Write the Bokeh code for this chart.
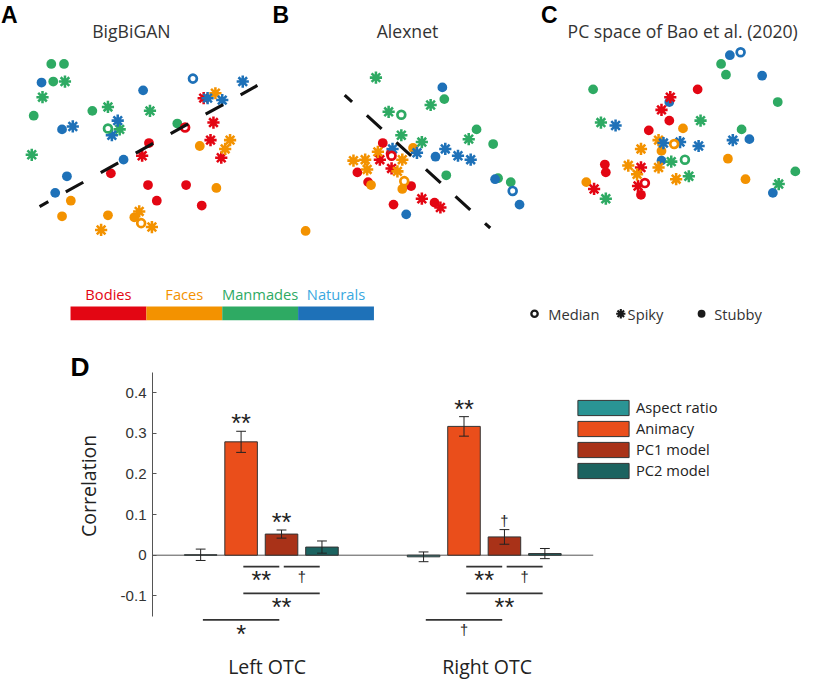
import math
from bokeh.plotting import figure
from bokeh.models import Range1d, ColumnDataSource, FixedTicker, Legend, LegendItem
from bokeh.layouts import column, row
from bokeh.embed import file_html
from bokeh.resources import INLINE
from bokeh.core.properties import value

# ------------------------------------------------------------------ data
CATEGORIES = ["Bodies", "Faces", "Manmades", "Naturals"]
SHAPES = ["Median", "Spiky", "Stubby"]
PANEL_TITLES = ["BigBiGAN", "Alexnet", "PC space of Bao et al. (2020)"]
PANEL_LETTERS = ["A", "B", "C"]

# Panel A: BigBiGAN space
A_cat = ["Bodies"] * 12 + ["Faces"] * 13 + ["Manmades"] * 13 + ["Naturals"] * 13
A_shape = (["Stubby"] * 6 + ["Spiky"] * 5 + ["Median"] +
           ["Stubby"] * 6 + ["Spiky"] * 6 + ["Median"] +
           ["Stubby"] * 6 + ["Spiky"] * 6 + ["Median"] +
           ["Stubby"] * 6 + ["Spiky"] * 6 + ["Median"])
A_x = [15.2, 11.3, 15.1, 16.0, 19.0, 20.6, 20.8, 21.8, 21.5, 14.5, 22.6, 18.9,
       20.4, 22.1, 7.2, 6.3, 11.0, 13.7, 22.0, 23.5, 23.0, 14.2, 15.5, 10.3, 14.4,
       5.2, 6.5, 5.4, 9.4, 3.4, 18.1, 6.6, 4.3, 11.0, 15.3, 12.2, 3.2, 11.0,
       4.2, 14.6, 6.3, 12.6, 6.8, 5.6, 7.4, 12.0, 11.4, 24.8, 21.2, 22.7, 19.7]
A_y = [10.9, 7.8, 6.6, 5.0, 6.6, 4.5, 15.5, 13.0, 11.2, 9.6, 9.4, 12.5,
       10.6, 6.3, 5.0, 3.4, 3.5, 3.3, 16.0, 11.2, 10.3, 3.9, 2.3, 2.0, 2.7,
       19.0, 19.0, 17.2, 14.2, 13.7, 12.9, 17.2, 15.6, 14.6, 14.2, 12.3, 9.7, 12.4,
       17.1, 16.3, 12.3, 9.2, 7.5, 5.8, 12.6, 13.2, 11.7, 17.2, 15.5, 15.3, 17.5]
A_boundary_x = [4.0, 26.3]
A_boundary_y = [4.4, 16.8]

# Panel B: Alexnet space
B_cat = ["Bodies"] * 12 + ["Faces"] * 11 + ["Manmades"] * 13 + ["Naturals"] * 11
B_shape = (["Stubby"] * 7 + ["Spiky"] * 4 + ["Median"] +
           ["Stubby"] * 4 + ["Spiky"] * 6 + ["Median"] +
           ["Stubby"] * 6 + ["Spiky"] * 6 + ["Median"] +
           ["Stubby"] * 5 + ["Spiky"] * 5 + ["Median"])
B_x = [11.8, 12.6, 9.2, 10.3, 14.7, 12.9, 17.1, 11.5, 12.7, 15.8, 17.7, 12.7,
       14.9, 10.6, 13.8, 3.9, 8.8, 10.0, 11.3, 13.8, 10.2, 13.3, 14.0,
       18.1, 21.4, 23.1, 18.3, 23.6, 24.9, 11.1, 16.7, 12.4, 20.6, 13.7, 15.8, 13.7,
       17.9, 23.3, 25.8, 14.2, 17.2, 18.2, 19.5, 20.8, 15.3, 12.8, 25.1]
B_y = [10.9, 9.8, 7.9, 6.9, 6.5, 4.6, 4.8, 9.2, 8.3, 5.2, 4.3, 9.6,
       10.4, 6.6, 6.2, 1.9, 9.1, 9.2, 10.0, 9.2, 8.2, 8.0, 7.0,
       15.4, 12.3, 10.8, 7.6, 7.3, 6.9, 17.6, 14.8, 14.1, 11.3, 11.7, 11.0, 13.8,
       16.6, 7.2, 4.6, 3.6, 9.5, 10.3, 9.6, 9.2, 9.9, 10.3, 6.0]
B_boundary_x = [7.9, 22.8]
B_boundary_y = [15.8, 2.2]

# Panel C: PC space of Bao et al. (2020)
C_cat = ["Bodies"] * 12 + ["Faces"] * 12 + ["Manmades"] * 13 + ["Naturals"] * 12
C_shape = (["Stubby"] * 6 + ["Spiky"] * 5 + ["Median"] +
           ["Stubby"] * 5 + ["Spiky"] * 6 + ["Median"] +
           ["Stubby"] * 6 + ["Spiky"] * 6 + ["Median"] +
           ["Stubby"] * 6 + ["Spiky"] * 5 + ["Median"])
C_x = [16.7, 13.8, 11.7, 7.2, 7.3, 10.9, 13.9, 13.0, 10.9, 6.1, 10.6, 11.3,
       15.2, 13.0, 19.8, 21.6, 5.3, 12.7, 10.9, 9.6, 12.7, 10.5, 14.5, 14.3,
       19.1, 19.6, 6.0, 24.9, 21.2, 26.7, 6.8, 17.0, 14.0, 15.8, 7.3, 25.0, 15.4,
       20.0, 23.3, 22.0, 13.8, 13.0, 24.4, 8.3, 13.2, 14.9, 16.8, 20.3, 21.1]
C_y = [16.4, 13.2, 12.2, 8.7, 7.9, 5.6, 15.6, 14.3, 8.4, 6.2, 6.5, 6.8,
       12.4, 10.1, 9.3, 7.2, 6.9, 11.2, 10.3, 8.6, 8.4, 7.7, 7.2, 10.8,
       19.0, 17.9, 16.4, 15.1, 12.3, 8.0, 13.0, 13.2, 9.0, 7.5, 5.2, 6.7, 9.2,
       19.9, 17.8, 11.3, 15.1, 9.1, 5.8, 12.7, 10.9, 11.0, 10.6, 11.2, 20.2]

# Panel D: model correlations with OTC
MODELS = ["Aspect ratio", "Animacy", "PC1 model", "PC2 model"]
REGIONS = ["Left OTC", "Right OTC"]
CORR_LEFT = [0.001, 0.279, 0.052, 0.020]
SEM_LEFT = [0.014, 0.026, 0.010, 0.015]
CORR_RIGHT = [-0.004, 0.317, 0.045, 0.004]
SEM_RIGHT = [0.012, 0.024, 0.018, 0.0125]
SIG_ABOVE_LEFT = ["", "**", "**", ""]
SIG_ABOVE_RIGHT = ["", "**", "\u2020", ""]
PAIRS_LEFT = [(1, 2, "**"), (2, 3, "\u2020"), (1, 3, "**"), (0, 2, "*")]
PAIRS_RIGHT = [(1, 2, "**"), (2, 3, "\u2020"), (1, 3, "**"), (0, 2, "\u2020")]
Y_TICKS = [-0.1, 0, 0.1, 0.2, 0.3, 0.4]
Y_TICK_LABELS = ["-0.1", "0", "0.1", "0.2", "0.3", "0.4"]
Y_LABEL = "Correlation"

# ------------------------------------------------------------------ style
S = 680.0 / 696.0
CAT_COLORS = {"Bodies": "#E30613", "Faces": "#F39200", "Manmades": "#2EAA63", "Naturals": "#1E71B8"}
CAT_TEXT_COLORS = {"Bodies": "#E30613", "Faces": "#F39200", "Manmades": "#2EAA63", "Naturals": "#3AA8E0"}
MODEL_COLORS = ["#2A9494", "#EA4E1B", "#A93218", "#1C6360"]
SANS = "Open Sans"
ARIAL = "Liberation Sans"


def fs(v):
    return value(f"{v * S:.1f}px")


def fss(v):
    return f"{v * S:.1f}px"


def scatter_panel(letter, letter_x, title, title_x, xs, ys, cats, shapes, bx=None, by=None):
    p = figure(width=267, height=249, x_range=Range1d(0, 27.333), y_range=Range1d(0, 25.5),
               x_axis_type=None, y_axis_type=None, toolbar_location=None,
               output_backend="svg", min_border=0, outline_line_color=None)
    for shape in ["Stubby", "Spiky", "Median"]:
        idx = [i for i, s in enumerate(shapes) if s == shape]
        src = ColumnDataSource(dict(x=[xs[i] for i in idx], y=[ys[i] for i in idx],
                                    c=[CAT_COLORS[cats[i]] for i in idx]))
        if shape == "Stubby":
            p.scatter("x", "y", source=src, marker="circle", size=10 * S,
                      fill_color="c", line_color=None)
        elif shape == "Spiky":
            p.scatter("x", "y", source=src, marker="asterisk", size=12.5 * S,
                      line_color="c", line_width=2.6 * S)
        else:
            p.scatter("x", "y", source=src, marker="circle", size=8 * S,
                      fill_color="white", line_color="c", line_width=2.8 * S)
    if bx is not None:
        p.line(bx, by, line_color="#111111", line_width=3.2 * S,
               line_dash="20 20", line_dash_offset=10)
    p.text(x=[title_x], y=[22.33], text=[title], text_align="center",
           text_baseline="middle", text_font=value(SANS),
           text_font_size=fs(18), text_color="#333333")
    p.text(x=[letter_x], y=[24.0], text=[letter], text_align="left",
           text_baseline="middle", text_font=value(ARIAL), text_font_style="bold",
           text_font_size=fs(23.5), text_color="#000000")
    return p


pA = scatter_panel("A", 0.05, PANEL_TITLES[0], 13.4, A_x, A_y, A_cat, A_shape, A_boundary_x, A_boundary_y)
pB = scatter_panel("B", 0.5, PANEL_TITLES[1], 14.33, B_x, B_y, B_cat, B_shape, B_boundary_x, B_boundary_y)
pC = scatter_panel("C", 0.66, PANEL_TITLES[2], 15.17, C_x, C_y, C_cat, C_shape)

# ------------------------------------------------------------------ legends row
pL = figure(width=801, height=88, x_range=Range1d(0, 820), y_range=Range1d(345, 255),
            x_axis_type=None, y_axis_type=None, toolbar_location=None,
            output_backend="svg", min_border=0, outline_line_color=None)
CB_X0, CB_X1, CB_TOP, CB_BOT = 71.7, 382.3, 313.3, 327.3
seg = (CB_X1 - CB_X0) / len(CATEGORIES)
lefts = [CB_X0 + i * seg for i in range(len(CATEGORIES))]
pL.quad(left=lefts, right=[l + seg for l in lefts], top=[CB_TOP] * 4, bottom=[CB_BOT] * 4,
        fill_color=[CAT_COLORS[c] for c in CATEGORIES], line_color=None)
pL.text(x=[l + seg / 2 for l in lefts], y=[300.7] * 4, text=CATEGORIES,
        text_color=[CAT_TEXT_COLORS[c] for c in CATEGORIES], text_align="center",
        text_baseline="middle", text_font=value(SANS), text_font_size=fs(15))
MK_X = [546.7, 635.0, 717.7]
TX_X = [560.7, 642.0, 730.7]
pL.scatter([MK_X[0]], [320.7], marker="circle", size=6.5 * S, fill_color="white",
           line_color="#1a1a1a", line_width=2.4 * S)
pL.scatter([MK_X[1]], [320.7], marker="asterisk", size=9.5 * S, line_color="#1a1a1a",
           line_width=2.2 * S)
pL.scatter([MK_X[2]], [320.7], marker="circle", size=8 * S, fill_color="#1a1a1a", line_color=None)
pL.text(x=TX_X, y=[320.8] * 3, text=SHAPES, text_align="left", text_baseline="middle",
        text_font=value(SANS), text_font_size=fs(15), text_color="#333333")

# ------------------------------------------------------------------ bar chart D
X_START, X_END = -0.1700, 3.4233      # whole figure is the frame
Y_START, Y_END = -0.3084, 0.5358
X_AXIS_AT, Y_AXIS_AT = 0.5123, -0.2339
STEP, BAR_W, CAP_HALF, GAP = 0.1814, 0.146, 0.022, 0.01
LEVELS = [-0.028, -0.094, -0.159]
REGION_LABEL_X = [1.026, 2.013]

pD = figure(width=801, height=343, x_range=Range1d(X_START, X_END), y_range=Range1d(Y_START, Y_END),
            toolbar_location=None, output_backend="svg", min_border=0, outline_line_color=None)
pD.xgrid.visible = False
pD.ygrid.visible = False

pD.segment(x0=[X_AXIS_AT], y0=[0], x1=[2.489], y1=[0], line_color="#555555", line_width=1)

renderers = []
for m, model in enumerate(MODELS):
    xs = [1 + (m - 1.5) * STEP, 2 + (m - 1.5) * STEP]
    tops = [CORR_LEFT[m], CORR_RIGHT[m]]
    r = pD.vbar(x=xs, top=tops, bottom=0, width=BAR_W, fill_color=MODEL_COLORS[m],
                line_color="#333333", line_width=1)
    renderers.append(r)

ex, elo, ehi = [], [], []
for g, (corr, sem) in enumerate([(CORR_LEFT, SEM_LEFT), (CORR_RIGHT, SEM_RIGHT)]):
    for m in range(len(MODELS)):
        ex.append(1 + g + (m - 1.5) * STEP)
        elo.append(corr[m] - sem[m])
        ehi.append(corr[m] + sem[m])
pD.segment(x0=ex, y0=elo, x1=ex, y1=ehi, line_color="#222222", line_width=1)
pD.segment(x0=[x - CAP_HALF for x in ex], y0=elo, x1=[x + CAP_HALF for x in ex], y1=elo,
           line_color="#222222", line_width=1)
pD.segment(x0=[x - CAP_HALF for x in ex], y0=ehi, x1=[x + CAP_HALF for x in ex], y1=ehi,
           line_color="#222222", line_width=1)

SIG_FONT = {"**": 26, "*": 26, "\u2020": 15}
SIG_ABOVE_OFF = {"**": 0.020, "*": 0.020, "\u2020": 0.022}
SIG_BELOW_OFF = {"**": -0.033, "*": -0.034, "\u2020": -0.026}

for g, (corr, sem, above, pairs) in enumerate([(CORR_LEFT, SEM_LEFT, SIG_ABOVE_LEFT, PAIRS_LEFT),
                                               (CORR_RIGHT, SEM_RIGHT, SIG_ABOVE_RIGHT, PAIRS_RIGHT)]):
    center = [1 + g + (m - 1.5) * STEP for m in range(len(MODELS))]
    for m, lab in enumerate(above):
        if lab:
            pD.text(x=[center[m]], y=[corr[m] + sem[m] + SIG_ABOVE_OFF[lab]], text=[lab],
                    text_align="center", text_baseline="middle", text_font=value(ARIAL),
                    text_font_size=fs(SIG_FONT[lab]), text_color="#222222")
    for k, (i, j, lab) in enumerate(pairs):
        level = LEVELS[0] if k < 2 else LEVELS[k - 1]
        pD.segment(x0=[center[i] + GAP], y0=[level], x1=[center[j] - GAP], y1=[level],
                   line_color="#333333", line_width=1.8)
        pD.text(x=[(center[i] + center[j]) / 2], y=[level + SIG_BELOW_OFF[lab]], text=[lab],
                text_align="center", text_baseline="middle", text_font=value(ARIAL),
                text_font_size=fs(SIG_FONT[lab]), text_color="#222222")

# panel letter D and y-axis title
pD.text(x=[0.1442], y=[0.4644], text=["D"], text_align="left", text_baseline="middle",
        text_font=value(ARIAL), text_font_style="bold", text_font_size=fs(27), text_color="#000000")
pD.text(x=[0.2244], y=[0.1707], text=[Y_LABEL], angle=math.pi / 2, text_align="center",
        text_baseline="middle", text_font=value(SANS), text_font_size=fs(20), text_color="#222222")

yax = pD.yaxis[0]
yax.fixed_location = X_AXIS_AT
yax.bounds = (-0.15, 0.45)
yax.ticker = FixedTicker(ticks=Y_TICKS)
yax.major_label_overrides = {t: l for t, l in zip(Y_TICKS, Y_TICK_LABELS)}
yax.minor_tick_line_color = None
yax.major_tick_in = 4
yax.major_tick_out = 0
yax.axis_line_color = "#555555"
yax.major_tick_line_color = "#555555"
yax.major_label_text_font = ARIAL
yax.major_label_text_font_size = fss(15.5)
yax.major_label_text_color = "#333333"
yax.major_label_standoff = 6

xax = pD.xaxis[0]
xax.fixed_location = Y_AXIS_AT
xax.ticker = FixedTicker(ticks=REGION_LABEL_X)
xax.major_label_overrides = {x: r for x, r in zip(REGION_LABEL_X, REGIONS)}
xax.axis_line_color = None
xax.major_tick_line_color = None
xax.major_tick_in = 0
xax.major_tick_out = 0
xax.minor_tick_line_color = None
xax.major_label_text_font = SANS
xax.major_label_text_font_size = fss(20)
xax.major_label_text_color = "#222222"
xax.major_label_standoff = 3

legend = Legend(items=[LegendItem(label=m, renderers=[r]) for m, r in zip(MODELS, renderers)],
                location=(571, 200), orientation="vertical", glyph_width=64, glyph_height=19,
                label_standoff=1, label_height=20, spacing=1, padding=0, margin=0,
                border_line_color=None, background_fill_alpha=0, label_text_font=SANS,
                label_text_font_size=fss(15), label_text_color="#222222")
pD.add_layout(legend)

layout = column(row(pA, pB, pC), pL, pD)
open("out.html", "w").write(file_html(layout, INLINE))
